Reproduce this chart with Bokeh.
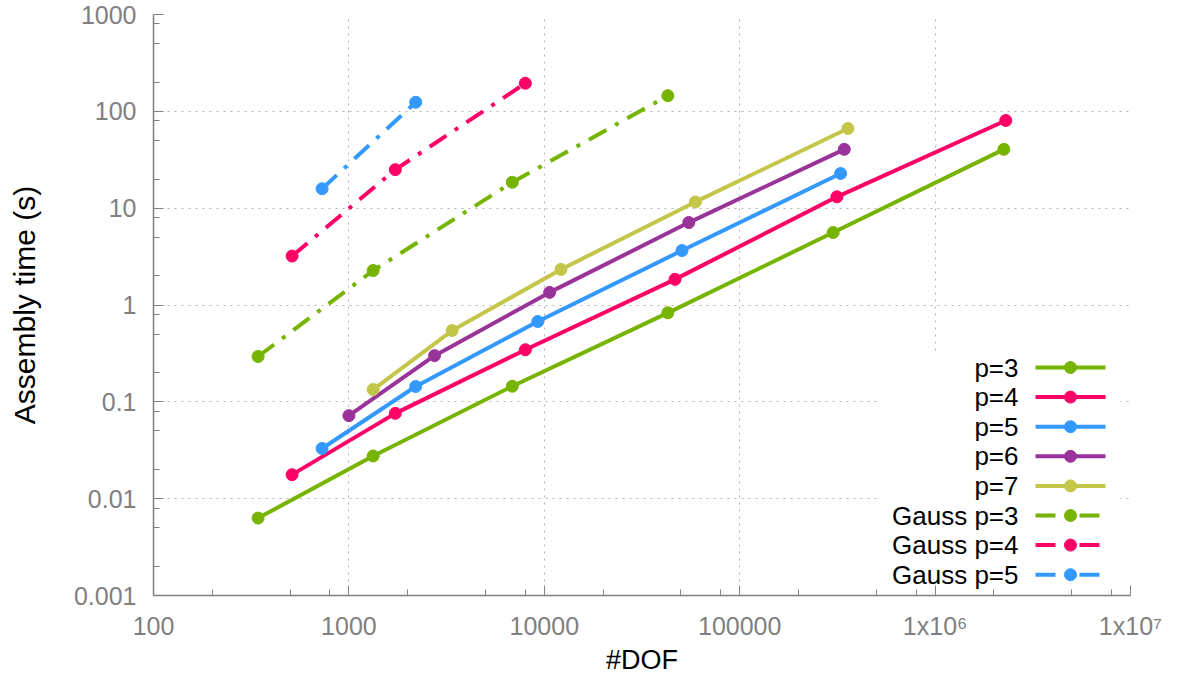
from bokeh.plotting import figure
from bokeh.models import Range1d, FixedTicker
from bokeh.core.properties import value
from bokeh.embed import file_html
from bokeh.resources import INLINE

# ---------------- data ----------------
series_names = ["p=3", "p=4", "p=5", "p=6", "p=7", "Gauss p=3", "Gauss p=4", "Gauss p=5"]

dof_p3 = [343, 1331, 6859, 42875, 300763, 2248091]
time_p3 = [0.0063, 0.0276, 0.145, 0.83, 5.6, 40.5]

dof_p4 = [512, 1728, 8000, 46656, 314432, 2299968]
time_p4 = [0.0177, 0.076, 0.345, 1.84, 13.1, 80.5]

dof_p5 = [729, 2197, 9261, 50653, 328509]
time_p5 = [0.033, 0.144, 0.675, 3.65, 22.8]

dof_p6 = [1000, 2744, 10648, 54872, 343000]
time_p6 = [0.072, 0.300, 1.35, 7.1, 40.5]

dof_p7 = [1331, 3375, 12167, 59319, 357911]
time_p7 = [0.134, 0.545, 2.33, 11.6, 66.5]

gauss_dof_p3 = [343, 1331, 6859, 42875]
gauss_time_p3 = [0.294, 2.27, 18.5, 145]

gauss_dof_p4 = [512, 1728, 8000]
gauss_time_p4 = [3.2, 25.0, 195]

gauss_dof_p5 = [729, 2197]
gauss_time_p5 = [15.9, 124]

x_ticks = [100, 1000, 10000, 100000, 1000000, 10000000]
x_tick_labels = ["100", "1000", "10000", "100000", "1x10\u2076", "1x10\u2077"]
y_ticks = [0.001, 0.01, 0.1, 1, 10, 100, 1000]
y_tick_labels = ["0.001", "0.01", "0.1", "1", "10", "100", "1000"]

colors = ["#76b400", "#ff0066", "#3399ff", "#993399", "#c4c64a", "#76b400", "#ff0066", "#3399ff"]

# ---------------- styling ----------------
FONT = "Liberation Sans"
GRAY = "#808080"
LW = 4
MSIZE = 12
DASH = "20 10 4 10"

p = figure(width=1186, height=684,
           x_axis_type="log", y_axis_type="log",
           x_range=Range1d(100, 1e7), y_range=Range1d(0.001, 1000),
           output_backend="svg", toolbar_location=None,
           min_border_left=153, min_border_right=56,
           min_border_top=14, min_border_bottom=89)
p.outline_line_color = None
p.background_fill_color = "white"

def minor(ticks):
    out = []
    for t in ticks[:-1]:
        out += [2 * t, 5 * t, 8 * t]
    return out

xt = FixedTicker(ticks=x_ticks, minor_ticks=minor(x_ticks))
yt = FixedTicker(ticks=y_ticks, minor_ticks=minor(y_ticks))
p.xaxis.ticker = xt
p.yaxis.ticker = yt
p.xgrid.ticker = xt
p.ygrid.ticker = yt
p.xaxis.major_label_overrides = dict(zip(x_ticks, x_tick_labels))
p.yaxis.major_label_overrides = dict(zip(y_ticks, y_tick_labels))

for ax in (p.xaxis, p.yaxis):
    ax.axis_line_color = GRAY
    ax.axis_line_width = 1.5
    ax.major_tick_line_color = GRAY
    ax.minor_tick_line_color = GRAY
    ax.major_tick_in = 10
    ax.major_tick_out = 0
    ax.minor_tick_in = 6
    ax.minor_tick_out = 0
    ax.major_label_text_color = GRAY
    ax.major_label_text_font = FONT
    ax.major_label_text_font_size = "25px"
    ax.axis_label_text_font = FONT
    ax.axis_label_text_font_style = "normal"
    ax.axis_label_text_color = "black"

p.xaxis.axis_label = "#DOF"
p.yaxis.axis_label = "Assembly time (s)"
p.xaxis.axis_label_text_font_size = "27px"
p.yaxis.axis_label_text_font_size = "30px"
p.xaxis.major_label_standoff = 16
p.yaxis.major_label_standoff = 17
p.xaxis.axis_label_standoff = 2
p.yaxis.axis_label_standoff = 30

for g in (p.xgrid, p.ygrid):
    g.grid_line_color = "#b4b4b4"
    g.grid_line_width = 1
    g.grid_line_dash = "2 5"

# ---------------- data series ----------------
all_x = [dof_p3, dof_p4, dof_p5, dof_p6, dof_p7, gauss_dof_p3, gauss_dof_p4, gauss_dof_p5]
all_y = [time_p3, time_p4, time_p5, time_p6, time_p7, gauss_time_p3, gauss_time_p4, gauss_time_p5]

for i, (xs, ys) in enumerate(zip(all_x, all_y)):
    dash = "solid" if i < 5 else DASH
    p.line(xs, ys, line_color=colors[i], line_width=LW, line_dash=dash)
    p.scatter(xs, ys, marker="circle", size=MSIZE, fill_color=colors[i], line_color=colors[i])

# ---------------- legend (text left, sample right), placed in frame fractions ----------------
FL, FR, FT, FB = 153.0, 1130.0, 14.0, 595.0   # frame edges in page px
def xd(px):
    return 10 ** (2 + 5 * (px - FL) / (FR - FL))
def yd(py):
    return 10 ** (3 - 6 * (py - FT) / (FB - FT))

p.quad(left=[xd(880)], right=[xd(1120)], bottom=[yd(590)], top=[yd(352)],
       fill_color="white", line_color=None)

row0, step = 367.0, 29.6
for i, name in enumerate(series_names):
    ry = yd(row0 + step * i)
    p.text(x=[xd(1018)], y=[ry], text=[name], text_align="right", text_baseline="middle",
           text_font=value(FONT), text_font_size=value("26px"), text_color="black")
    if i < 5:
        p.line([xd(1035), xd(1105)], [ry, ry], line_color=colors[i], line_width=LW)
    else:
        p.line([xd(1035), xd(1099)], [ry, ry], line_color=colors[i], line_width=LW, line_dash=DASH)
    p.scatter([xd(1070)], [ry], marker="circle", size=MSIZE, fill_color=colors[i], line_color=colors[i])

open("out.html", "w").write(file_html(p, INLINE))
